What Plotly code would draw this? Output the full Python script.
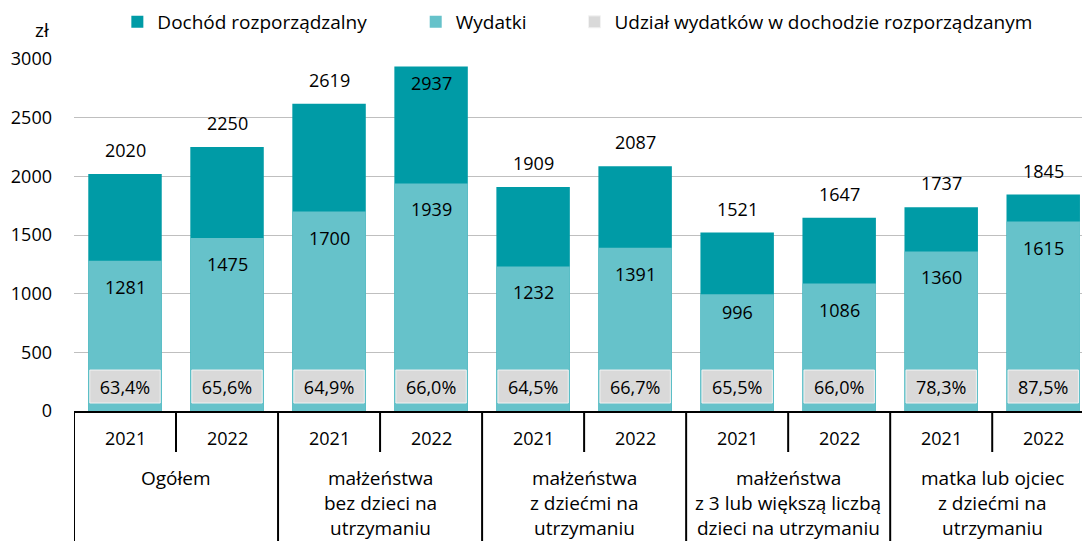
import plotly.graph_objects as go

# ---- data ----
groups = [
    ["Ogółem"],
    ["małżeństwa", "bez dzieci na", "utrzymaniu"],
    ["małżeństwa", "z dziećmi na", "utrzymaniu"],
    ["małżeństwa", "z 3 lub większą liczbą", "dzieci na utrzymaniu"],
    ["matka lub ojciec", "z dziećmi na", "utrzymaniu"],
]
years = ["2021", "2022"]
dochod = [2020, 2250, 2619, 2937, 1909, 2087, 1521, 1647, 1737, 1845]
wydatki = [1281, 1475, 1700, 1939, 1232, 1391, 996, 1086, 1360, 1615]
udzial = [63.4, 65.6, 64.9, 66.0, 64.5, 66.7, 65.5, 66.0, 78.3, 87.5]
y_ticks = [0, 500, 1000, 1500, 2000, 2500, 3000]

# ---- derived ----
categories = [f"{g[0]} {' '.join(g[1:])} {y}" for g in groups for y in years]
udzial_txt = [f"{v:.1f}".replace(".", ",") + "%" for v in udzial]

# ---- style ----
C_DARK = "#009ba6"
C_LIGHT = "#66c2ca"
C_GREY = "#d9d9d9"
FONT = "Open Sans"
FS = 18      # numbers
FS_W = 19    # words
BAR_W = 0.72
BOX_W = 0.69
BOX_BASE = 68
BOX_H = 281

fig = go.Figure()
fig.add_trace(go.Bar(
    x=categories, y=dochod, name="Dochód rozporządzalny",
    marker=dict(color=C_DARK, line=dict(width=0)), width=BAR_W,
    legend="legend",
))
fig.add_trace(go.Bar(
    x=categories, y=wydatki, name="Wydatki",
    marker=dict(color=C_LIGHT, line=dict(width=0)), width=BAR_W,
    legend="legend2",
))
fig.add_trace(go.Bar(
    x=categories, y=[BOX_H] * len(categories), base=BOX_BASE,
    name="Udział wydatków w dochodzie rozporządzanym",
    marker=dict(color=C_GREY, line=dict(width=1, color="#f2f2f2")),
    width=BOX_W, text=udzial_txt, textposition="inside",
    insidetextanchor="middle", textangle=0,
    textfont=dict(family=FONT, size=FS, color="black"),
    legend="legend3",
))

annotations = []
for i, v in enumerate(dochod):
    shift = -17 if v > 2900 else 24
    annotations.append(dict(x=i, y=v, xref="x", yref="y", text=str(v),
                            showarrow=False, yshift=shift,
                            font=dict(family=FONT, size=FS, color="black")))
for i, v in enumerate(wydatki):
    shift = -18 if v < 1000 else -26
    annotations.append(dict(x=i, y=v, xref="x", yref="y", text=str(v),
                            showarrow=False, yshift=shift,
                            font=dict(family=FONT, size=FS, color="black")))

PLOT_TOP, PLOT_BOTTOM = 59, 411
PX = PLOT_BOTTOM - PLOT_TOP


def py(pix):
    return (PLOT_BOTTOM - pix) / PX


for i, c in enumerate(categories):
    annotations.append(dict(x=i, y=py(438), xref="x", yref="paper",
                            text=years[i % 2], showarrow=False,
                            yanchor="middle",
                            font=dict(family=FONT, size=FS, color="black")))
for gi, lines in enumerate(groups):
    for li, line in enumerate(lines):
        annotations.append(dict(x=gi * 2 + 0.5, y=py(478 + li * 25),
                                xref="x", yref="paper", text=line,
                                showarrow=False, yanchor="middle",
                                font=dict(family=FONT, size=FS_W, color="black")))

annotations.append(dict(x=(33 - 74) / 1008, y=py(30), xref="paper",
                        yref="paper", text="zł", showarrow=False,
                        yanchor="middle",
                        font=dict(family=FONT, size=FS_W, color="black")))

shapes = []
line_style = dict(color="black", width=2)
shapes.append(dict(type="line", xref="x", yref="paper", x0=-0.5, x1=-0.5,
                   y0=0, y1=py(541), line=line_style))
for gi in range(len(groups)):
    xs = gi * 2 + 0.5
    shapes.append(dict(type="line", xref="x", yref="paper", x0=xs, x1=xs,
                       y0=0, y1=py(452), line=line_style))
    xe = gi * 2 + 1.5
    shapes.append(dict(type="line", xref="x", yref="paper", x0=xe, x1=xe,
                       y0=0, y1=py(541), line=line_style))

legend_common = dict(orientation="h", yanchor="middle", y=py(22),
                     xanchor="left", bgcolor="rgba(0,0,0,0)",
                     font=dict(family=FONT, size=FS_W, color="black"))

fig.update_layout(
    width=1082, height=541,
    margin=dict(l=74, r=0, t=59, b=130, autoexpand=False),
    barmode="overlay",
    plot_bgcolor="white", paper_bgcolor="white",
    font=dict(family=FONT, size=FS, color="black"),
    legend=dict(x=0.043, **legend_common),
    legend2=dict(x=0.339, **legend_common),
    legend3=dict(x=0.4965, **legend_common),
    annotations=annotations,
    shapes=shapes,
    xaxis=dict(type="category", range=[-0.5, 9.38], showticklabels=False,
               showline=True, linecolor="black", linewidth=2,
               showgrid=False, ticks="", fixedrange=True),
    yaxis=dict(range=[0, 3000], tickvals=y_ticks, showgrid=True,
               gridcolor="#bfbfbf", gridwidth=1, zeroline=False,
               ticks="", ticklabelstandoff=21, showline=False,
               tickfont=dict(family=FONT, size=FS, color="black")),
    showlegend=True,
)

fig.write_html(
    "out.html",
    config={"displayModeBar": False},
    post_script="document.body.style.margin='0';document.body.style.overflow='hidden';",
)
